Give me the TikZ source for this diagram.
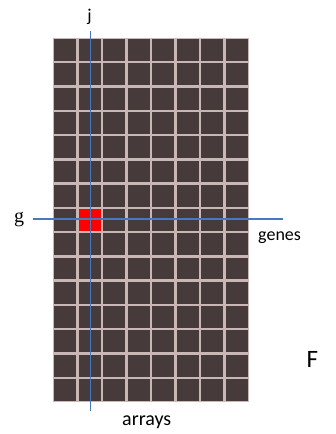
\documentclass[tikz,border=0pt]{standalone}
\usepackage{fontspec}
\setmainfont{Carlito}
\newfontfamily\serifletter{Liberation Serif}
\begin{document}
\definecolor{cellfill}{HTML}{463A3A}
\definecolor{gridgap}{HTML}{C9B7B5}
\definecolor{hitcell}{HTML}{FF0000}
\definecolor{axisblue}{HTML}{4A78BE}
\begin{tikzpicture}[x=1pt,y=-1pt,
  cell/.style={fill=cellfill},
  axisline/.style={draw=axisblue,line width=1.4pt},
  lbl/.style={inner sep=0pt,anchor=base west,text=black}]
\useasboundingbox (0,0) rectangle (335,434);
% matrix background (shows through as grid lines)
\fill[gridgap] (53,38) rectangle (249,402);
% 8 columns x 15 rows of cells
\foreach \i in {0,...,7}{
  \foreach \j in {0,...,14}{
    \fill[cell] ({53+24.5*\i+1.2},{38+24.267*\j+1.2}) rectangle ({53+24.5*(\i+1)-1.2},{38+24.267*(\j+1)-1.2});
  }
}
% selected entry (row g, column j)
\fill[hitcell] ({53+24.5*1+1.2},{38+24.267*7+1.2}) rectangle ({53+24.5*2-1.2},{38+24.267*8-1.2});
% axis lines
\coordinate (jtop) at (90.5,31);
\coordinate (jbot) at (90.5,410.5);
\coordinate (gleft) at (33,219);
\coordinate (gright) at (283,219);
\draw[axisline] (jtop) -- (jbot);
\draw[axisline] (gleft) -- (gright);
% labels
\node[lbl,anchor=base] (jlab) at (89.5,21) {\fontsize{18}{20}\selectfont j};
\node[lbl,anchor=base] (glab) at (19,222) {\serifletter\fontsize{20}{22}\selectfont g};
\node[lbl] (genes) at (258,240.7) {\fontsize{18}{20}\selectfont genes};
\node[lbl] (arrays) at (122,425.7) {\fontsize{20}{22}\selectfont arrays};
\node[lbl] (flab) at (306.5,367) {\fontsize{25}{27}\selectfont F};
\end{tikzpicture}
\end{document}
